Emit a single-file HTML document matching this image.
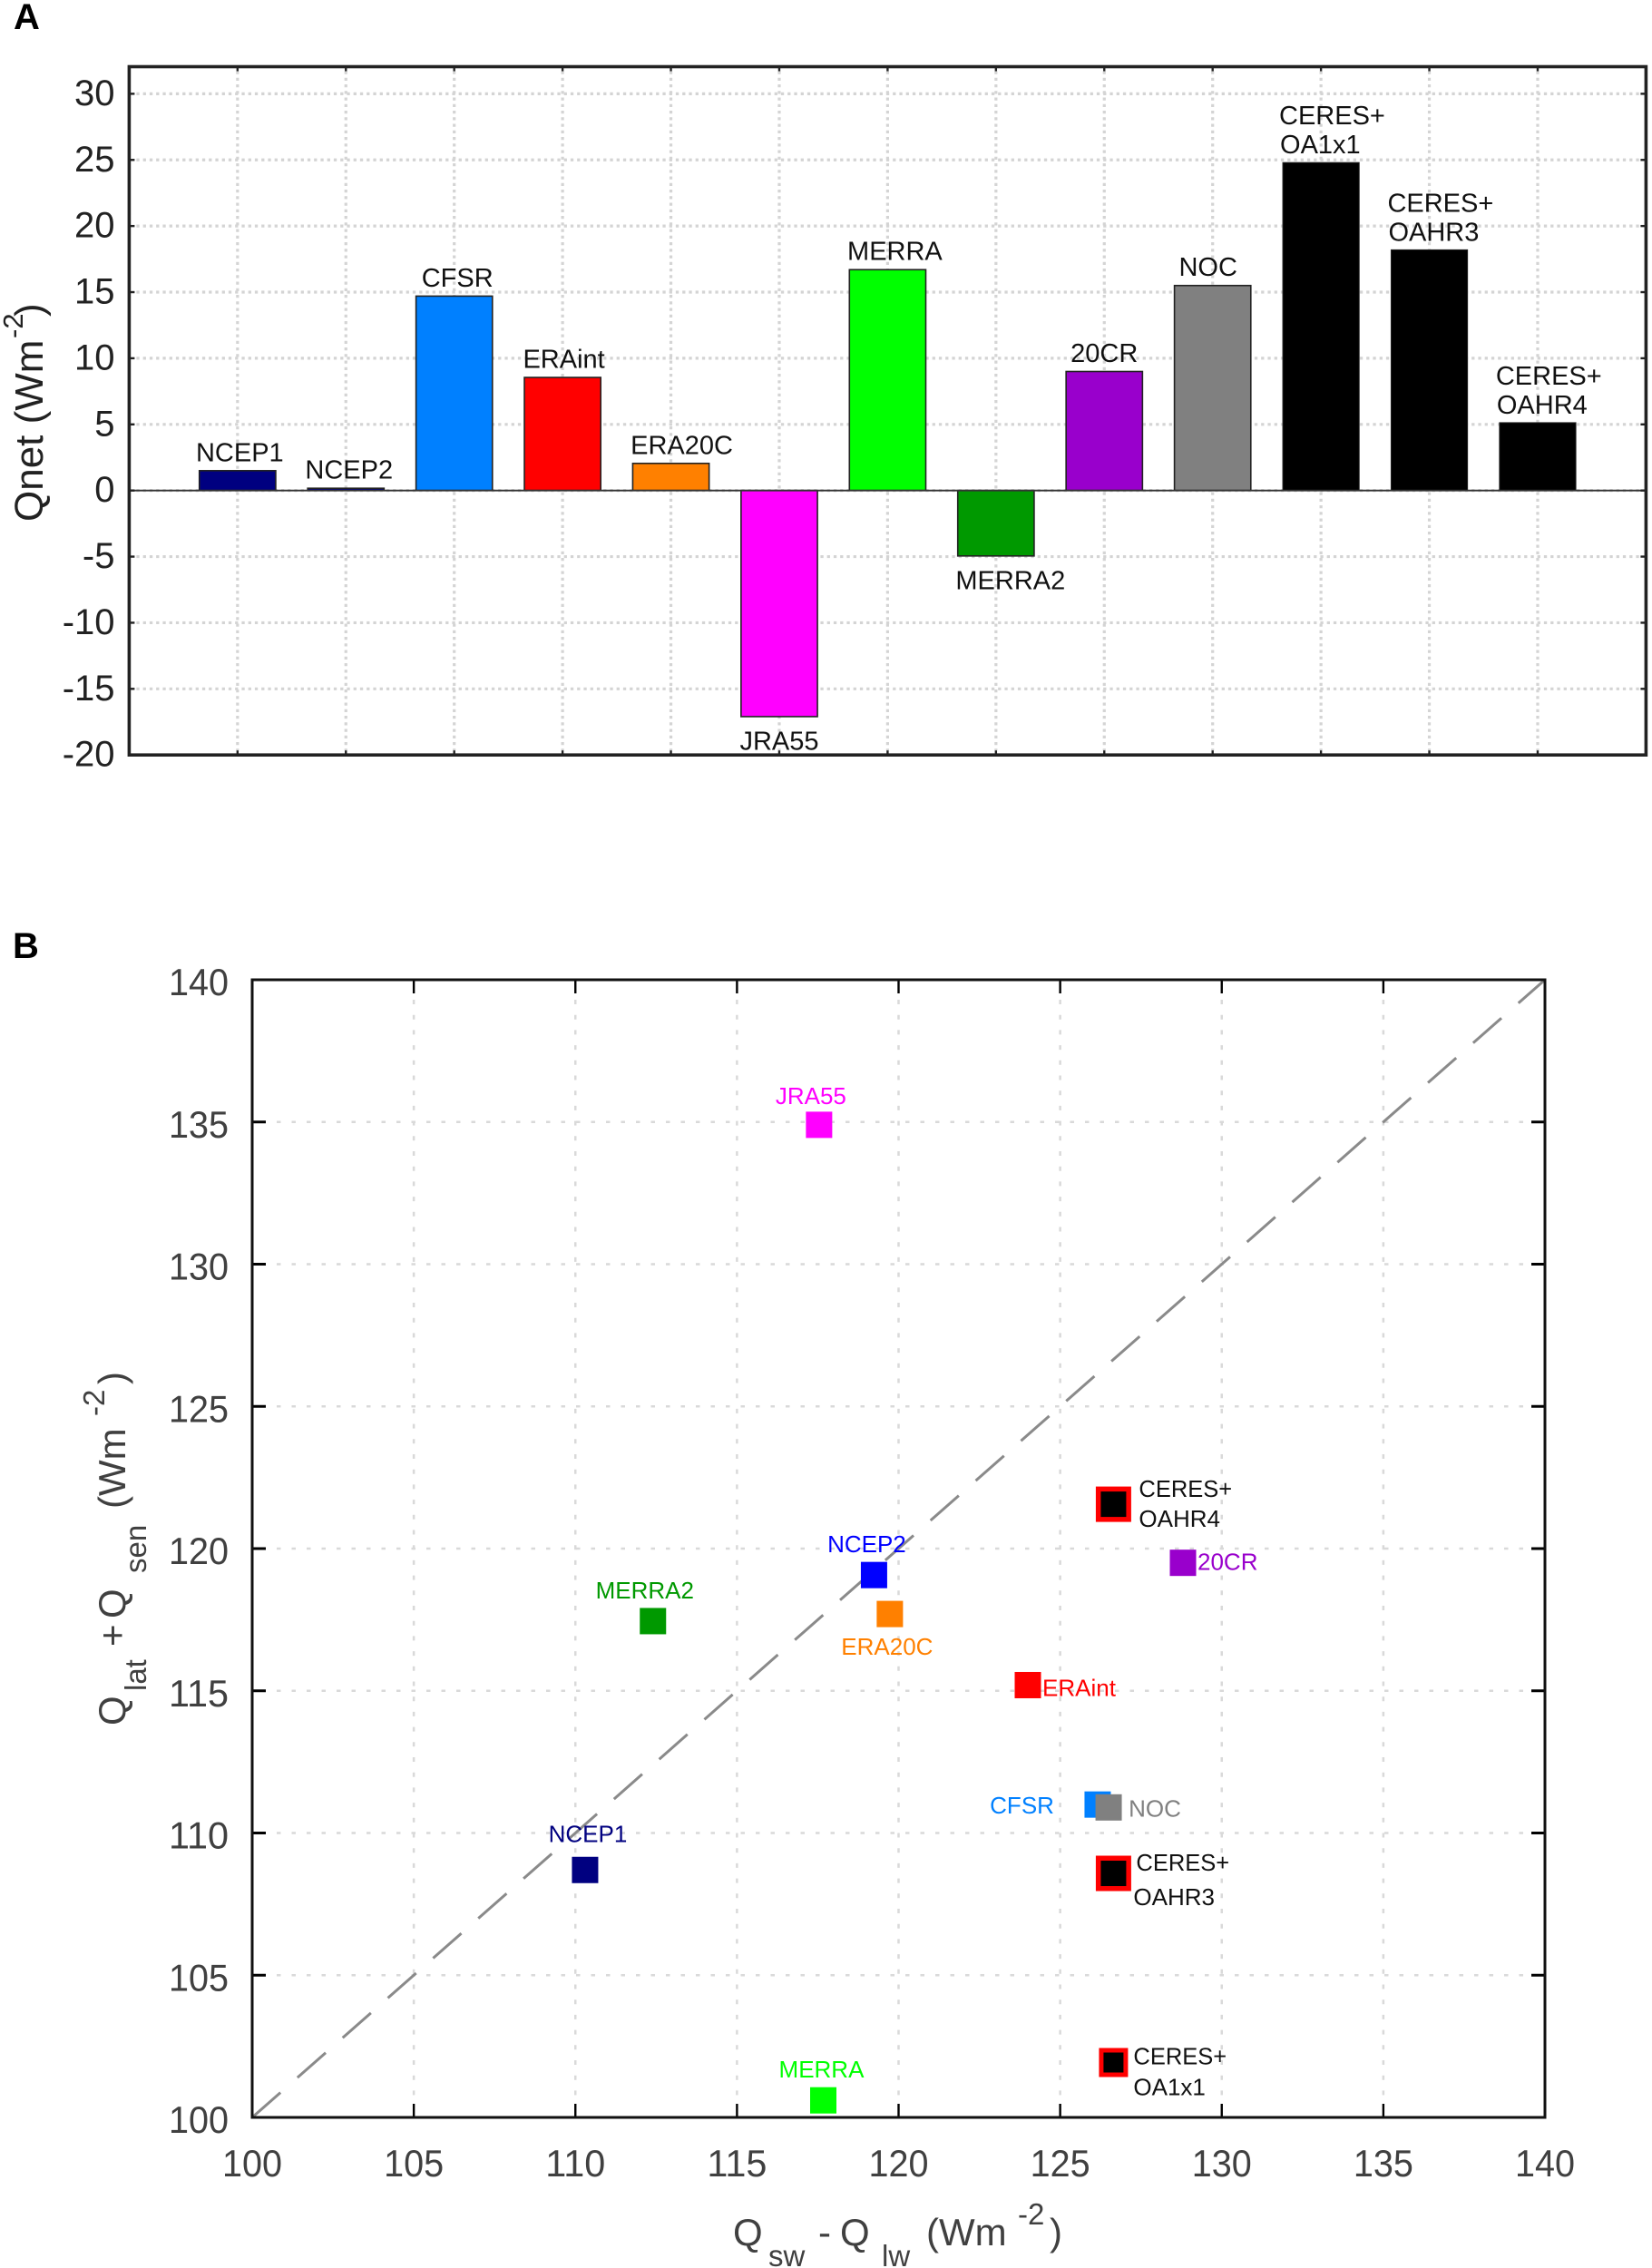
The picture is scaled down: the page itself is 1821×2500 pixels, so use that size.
<!DOCTYPE html>
<html lang="en">
<head>
<meta charset="utf-8">
<title>Qnet bar chart and surface flux scatter chart</title>
<style>
  html, body { margin: 0; padding: 0; background: #ffffff; }
  svg { display: block; font-family: "Liberation Sans", sans-serif; }
</style>
</head>
<body>
<svg id="figure" xmlns="http://www.w3.org/2000/svg" width="1821" height="2500" viewBox="0 0 1821 2500">
  <rect x="0" y="0" width="1821" height="2500" fill="#ffffff"/>
  <text x="15" y="32" font-size="40" font-weight="bold" fill="#000">A</text>
  <text x="14" y="1056" font-size="40" font-weight="bold" fill="#000">B</text>

  <g id="panelA"></g>
  <g id="panelB"></g>

  <g transform="translate(47,575) rotate(-90)" fill="#222" font-size="44">
    <text x="0" y="0">Qnet (Wm</text>
    <text x="202" y="-22" font-size="31">-2</text>
    <text x="226" y="0">)</text>
  </g>

  <g transform="translate(138,1902) rotate(-90)" fill="#404040" font-size="42">
    <text x="0" y="0">Q</text>
    <text x="38" y="23" font-size="33">lat</text>
    <text x="87" y="0">+</text>
    <text x="118" y="0">Q</text>
    <text x="168" y="23" font-size="33">sen</text>
    <text x="239" y="0">(Wm</text>
    <text x="341" y="-23" font-size="33">-2</text>
    <text x="376" y="0">)</text>
  </g>

  <g fill="#404040" font-size="42">
    <text x="808" y="2475">Q</text>
    <text x="847" y="2498" font-size="33">sw</text>
    <text x="902" y="2475">-</text>
    <text x="926" y="2475">Q</text>
    <text x="972" y="2498" font-size="33">lw</text>
    <text x="1021" y="2475">(Wm</text>
    <text x="1122" y="2452" font-size="33">-2</text>
    <text x="1157" y="2475">)</text>
  </g>
</svg>

<script>
// ---------- Panel A data ----------
const barNames = ["NCEP1", "NCEP2", "CFSR", "ERAint", "ERA20C", "JRA55", "MERRA", "MERRA2", "20CR", "NOC", "CERES+ OA1x1", "CERES+ OAHR3", "CERES+ OAHR4"];
const barValues = [1.5, 0.17, 14.7, 8.55, 2.05, -17.1, 16.7, -4.95, 9.0, 15.5, 24.8, 18.2, 5.13];
const barColors = ["#000080", "#000080", "#0080ff", "#ff0000", "#ff8000", "#ff00ff", "#00ff00", "#009900", "#9900cc", "#808080", "#000000", "#000000", "#000000"];
const barYTicks = [-20, -15, -10, -5, 0, 5, 10, 15, 20, 25, 30];

// ---------- Panel B data ----------
const pointNames = ["NCEP1", "NCEP2", "CFSR", "NOC", "ERAint", "ERA20C", "JRA55", "MERRA", "MERRA2", "20CR", "CERES+ OA1x1", "CERES+ OAHR3", "CERES+ OAHR4"];
const pointX = [110.3, 119.24, 126.16, 126.5, 124.0, 119.73, 117.54, 117.67, 112.4, 128.8, 126.65, 126.65, 126.65];
const pointY = [108.7, 119.07, 111.0, 110.9, 115.2, 117.7, 134.9, 100.6, 117.45, 119.5, 101.93, 108.58, 121.56];
const pointColors = ["#000080", "#0000ff", "#0080ff", "#808080", "#ff0000", "#ff8000", "#ff00ff", "#00ff00", "#009900", "#9900cc", "#000000", "#000000", "#000000"];
const scatterXTicks = [100, 105, 110, 115, 120, 125, 130, 135, 140];
const scatterYTicks = [100, 105, 110, 115, 120, 125, 130, 135, 140];

const SVG_NS = "http://www.w3.org/2000/svg";
function make(parent, tag, attrs, content) {
  const node = document.createElementNS(SVG_NS, tag);
  for (const key in attrs) node.setAttribute(key, attrs[key]);
  if (content !== undefined) node.textContent = content;
  parent.appendChild(node);
  return node;
}
function slug(s) { return s.toLowerCase().replace(/[^a-z0-9]+/g, "-"); }

// ---------- Panel A axes ----------
const A = { left: 142.4, right: 1814.4, top: 73.5, bottom: 832.2, xMin: 0, xMax: 14, yMin: -20, yMax: 32.05 };
const ax = v => A.left + (v - A.xMin) / (A.xMax - A.xMin) * (A.right - A.left);
const ay = v => A.bottom - (v - A.yMin) / (A.yMax - A.yMin) * (A.bottom - A.top);
const gA = document.getElementById("panelA");
const barLabelShift = { "NCEP1": 2.5, "NCEP2": 3.5, "CFSR": 3.5, "ERAint": 1.5, "ERA20C": 12, "JRA55": 0, "MERRA": 8, "MERRA2": 16, "20CR": 0, "NOC": -5 };

barYTicks.forEach(t => {
  if (t === -20) return;
  const line = make(gA, "line", { x1: A.left + 8, x2: A.right - 6, y1: ay(t), y2: ay(t), stroke: "#d4d4d4", "stroke-width": 3.2, "stroke-dasharray": "3.3 3.95" });
  
  
});
barNames.forEach((name, i) => {
  const line = make(gA, "line", { x1: ax(i + 1), x2: ax(i + 1), y1: A.top + 5, y2: A.bottom - 5, stroke: "#d4d4d4", "stroke-width": 3.2, "stroke-dasharray": "3.3 3.95" });
  
  
});

const barWidth = 0.705;
barValues.forEach((v, i) => {
  const x0 = ax(i + 1 - barWidth / 2);
  const x1 = ax(i + 1 + barWidth / 2);
  const yTop = Math.min(ay(v), ay(0));
  const yBot = Math.max(ay(v), ay(0));
  const isBlack = barColors[i] === "#000000";
  const bar = make(gA, "rect", { x: x0, y: yTop, width: x1 - x0, height: yBot - yTop, fill: barColors[i], stroke: "#222", "stroke-width": isBlack ? 1 : 1.6 });
  
  

  const parts = barNames[i].split(" ");
  if (parts.length === 2) {
    const first = make(gA, "text", { x: x0 - 4, y: yTop - 42, "font-size": 29, fill: "#111" }, parts[0]);
    
    
    const second = make(gA, "text", { x: x0 - 3, y: yTop - 10, "font-size": 29, fill: "#111" }, parts[1]);
    
    
  } else {
    const labelY = v >= 0 ? yTop - 10.5 : yBot + 36.5;
    const label = make(gA, "text", { x: ax(i + 1) + barLabelShift[barNames[i]], y: labelY, "font-size": 29, fill: "#111", "text-anchor": "middle" }, barNames[i]);
    
    
  }
});

const zeroLine = make(gA, "line", { x1: A.left, x2: A.right, y1: ay(0), y2: ay(0), stroke: "#333", "stroke-width": 1.8 });



barYTicks.forEach(t => {
  const leftTick = make(gA, "line", { x1: A.left, x2: A.left + 6, y1: ay(t), y2: ay(t), stroke: "#222", "stroke-width": 2.4 });
  
  
  const rightTick = make(gA, "line", { x1: A.right - 6, x2: A.right, y1: ay(t), y2: ay(t), stroke: "#222", "stroke-width": 2.4 });
  
  
  const label = make(gA, "text", { x: 126.5, y: ay(t) + 12.5, "font-size": 40, fill: "#222", "text-anchor": "end" }, String(t));
  
  
});
barNames.forEach((name, i) => {
  const topTick = make(gA, "line", { x1: ax(i + 1), x2: ax(i + 1), y1: A.top, y2: A.top + 5, stroke: "#222", "stroke-width": 2.4 });
  
  
  const bottomTick = make(gA, "line", { x1: ax(i + 1), x2: ax(i + 1), y1: A.bottom - 5, y2: A.bottom, stroke: "#222", "stroke-width": 2.4 });
  
  
});
const frameA = make(gA, "rect", { x: A.left, y: A.top, width: A.right - A.left, height: A.bottom - A.top, fill: "none", stroke: "#222", "stroke-width": 3.6 });



// ---------- Panel B axes ----------
const B = { left: 278, right: 1703, top: 1080, bottom: 2334, min: 100, max: 140 };
const bx = v => B.left + (v - B.min) / (B.max - B.min) * (B.right - B.left);
const by = v => B.bottom - (v - B.min) / (B.max - B.min) * (B.bottom - B.top);
const gB = document.getElementById("panelB");

scatterYTicks.slice(1, -1).forEach(t => {
  const line = make(gB, "line", { x1: B.left + 27, x2: B.right - 20, y1: by(t), y2: by(t), stroke: "#d9d9d9", "stroke-width": 2.5, "stroke-dasharray": "4.5 12" });
  
  
});
scatterXTicks.slice(1, -1).forEach(t => {
  const line = make(gB, "line", { x1: bx(t), x2: bx(t), y1: B.top + 22, y2: B.bottom - 18, stroke: "#d9d9d9", "stroke-width": 2.5, "stroke-dasharray": "5 11.7" });
  
  
});

const oneToOne = make(gB, "line", { x1: bx(100), y1: by(100), x2: bx(140), y2: by(140), stroke: "#8a8a8a", "stroke-width": 3, "stroke-dasharray": "41.5 24.9" });



const labelLayout = {
  "NCEP1": { dx: 3, dy: -31, anchor: "middle", color: "#000080" },
  "NCEP2": { dx: -8, dy: -25, anchor: "middle", color: "#0000ff" },
  "CFSR": { dx: -48, dy: 10, anchor: "end", color: "#0080ff" },
  "NOC": { dx: 22, dy: 10, anchor: "start", color: "#808080" },
  "ERAint": { dx: 16, dy: 12, anchor: "start", color: "#ff0000" },
  "ERA20C": { dx: -3, dy: 45, anchor: "middle", color: "#ff8000" },
  "JRA55": { dx: -9, dy: -23, anchor: "middle", color: "#ff00ff" },
  "MERRA": { dx: -2, dy: -25, anchor: "middle", color: "#00ff00" },
  "MERRA2": { dx: -9, dy: -25, anchor: "middle", color: "#009900" },
  "20CR": { dx: 16, dy: 8, anchor: "start", color: "#9900cc" }
};
const ceresLayout = {
  "CERES+ OA1x1": { size: 32, stroke: 5, dx1: 22, dy1: 2, dx2: 22, dy2: 36 },
  "CERES+ OAHR3": { size: 39, stroke: 5.5, dx1: 25, dy1: -3, dx2: 22, dy2: 35 },
  "CERES+ OAHR4": { size: 39, stroke: 5.5, dx1: 28, dy1: -8, dx2: 28, dy2: 25 }
};

pointNames.forEach((name, i) => {
  const cx = bx(pointX[i]);
  const cy = by(pointY[i]);
  const ceres = ceresLayout[name];
  if (ceres) {
    const inner = ceres.size - ceres.stroke;
    const marker = make(gB, "rect", { x: cx - inner / 2, y: cy - inner / 2, width: inner, height: inner, fill: pointColors[i], stroke: "#ff0000", "stroke-width": ceres.stroke });
    
    
    const parts = name.split(" ");
    const first = make(gB, "text", { x: cx + ceres.dx1, y: cy + ceres.dy1, "font-size": 25.5, fill: "#111" }, parts[0]);
    
    
    const second = make(gB, "text", { x: cx + ceres.dx2, y: cy + ceres.dy2, "font-size": 26, fill: "#111" }, parts[1]);
    
    
  } else {
    const marker = make(gB, "rect", { x: cx - 14.5, y: cy - 14.5, width: 29, height: 29, fill: pointColors[i] });
    
    
    const layout = labelLayout[name];
    const label = make(gB, "text", { x: cx + layout.dx, y: cy + layout.dy, "font-size": 26, fill: layout.color, "text-anchor": layout.anchor }, name);
    
    
  }
});

scatterYTicks.forEach(t => {
  if (t !== 100 && t !== 140) {
    const leftTick = make(gB, "line", { x1: B.left, x2: B.left + 15, y1: by(t), y2: by(t), stroke: "#000", "stroke-width": 3 });
    
    
    const rightTick = make(gB, "line", { x1: B.right - 15, x2: B.right, y1: by(t), y2: by(t), stroke: "#000", "stroke-width": 3 });
    
    
  }
  const label = make(gB, "text", { x: 252, y: by(t) + 17, "font-size": 42, fill: "#404040", "text-anchor": "end", textLength: 66, lengthAdjust: "spacingAndGlyphs" }, String(t));
  
  
});
scatterXTicks.forEach(t => {
  if (t !== 100 && t !== 140) {
    const topTick = make(gB, "line", { x1: bx(t), x2: bx(t), y1: B.top, y2: B.top + 15, stroke: "#000", "stroke-width": 2.4 });
    
    
    const bottomTick = make(gB, "line", { x1: bx(t), x2: bx(t), y1: B.bottom - 15, y2: B.bottom, stroke: "#000", "stroke-width": 2.4 });
    
    
  }
  const label = make(gB, "text", { x: bx(t), y: 2399, "font-size": 42, fill: "#404040", "text-anchor": "middle", textLength: 66, lengthAdjust: "spacingAndGlyphs" }, String(t));
  
  
});
const frameB = make(gB, "rect", { x: B.left, y: B.top, width: B.right - B.left, height: B.bottom - B.top, fill: "none", stroke: "#111", "stroke-width": 3 });


</script>
</body>
</html>
